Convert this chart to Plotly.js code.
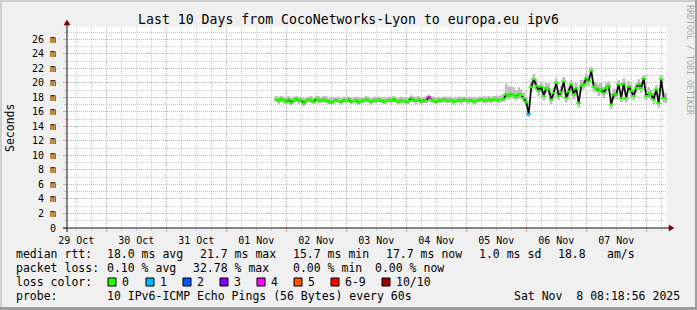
<!DOCTYPE html>
<html>
<head>
<meta charset="utf-8">
<script src="https://cdn.plot.ly/plotly-3.0.1.min.js"></script>
<style>
  html, body { margin: 0; padding: 0; background: #f0f0f0; }
  #chart { width: 697px; height: 310px; }
</style>
</head>
<body>
<div id="chart"></div>
<script>
// ---------------- DATA ----------------
const chartTitle = 'Last 10 Days from CocoNetworks-Lyon to europa.eu ipv6';
const rangeStart = '2025-10-29 08:18:56';
const rangeEnd = '2025-11-08 08:18:56';
const firstSample = Date.UTC(2025, 10, 1, 20, 0, 0); // Nov 1 20:00, hourly samples
const sampleStepHours = 1;

// median rtt per hourly sample (ms)
const medianMs = [
  17.7, 17.5, 17.8, 17.6, 17.4, 17.7, 17.3, 17.6, 17.8, 17.5,
  17.6, 17.2, 17.5, 17.7, 17.6, 17.4, 17.8, 17.6, 17.5, 17.7,
  17.6, 17.4, 17.3, 17.5, 17.6, 17.5, 17.4, 17.6, 17.5, 17.7,
  17.4, 17.5, 17.6, 17.3, 17.5, 17.6, 17.7, 17.5, 17.4, 17.6,
  17.5, 17.7, 17.6, 17.4, 17.5, 17.6, 17.5, 17.8, 17.5, 17.4,
  17.6, 17.5, 17.4, 17.5, 17.9, 17.6, 17.5, 17.7, 17.4, 17.6,
  17.5, 18.0, 17.7, 17.5, 17.4, 17.6, 17.5, 17.7, 17.6, 17.5,
  17.6, 17.4, 17.5, 17.6, 17.5, 17.7, 17.6, 17.5, 17.6, 17.4,
  17.5, 17.6, 17.7, 17.6, 17.5, 17.7, 17.6, 17.8, 17.7, 17.6,
  17.7, 17.8,
  18.4, 18.2, 18.5, 18.3, 18.1, 18.4, 18.3, 17.9,
  17.4, 15.7, 19.4, 20.5, 19.6, 18.9, 19.5, 18.2, 19.3, 19.1,
  17.7, 18.6, 20.0, 18.2, 18.7, 20.2, 17.9, 18.8, 19.8, 18.4,
  19.3, 17.2, 19.6, 19.8, 20.6, 20.2, 21.7, 19.5, 19.3, 18.9,
  19.1, 18.6, 19.3, 19.6, 17.0, 18.4, 18.4, 19.8, 17.9, 19.9,
  17.9, 19.5, 18.9, 18.2, 19.3, 19.8, 19.3, 20.6, 18.2, 18.6,
  18.4, 17.7, 19.1, 17.2, 20.5, 17.9, 17.9
];

// smoke extent above / below the median (ms)
const smokeUpMs = [
  0.5, 0.6, 0.4, 0.5, 0.7, 0.5, 0.6, 0.5, 0.4, 0.6,
  0.5, 0.7, 0.5, 0.4, 0.6, 0.5, 0.4, 0.6, 0.5, 0.5,
  0.6, 0.5, 0.7, 0.5, 0.4, 0.6, 0.5, 0.5, 0.6, 0.4,
  0.6, 0.5, 0.5, 0.7, 0.5, 0.4, 0.5, 0.6, 0.5, 0.5,
  0.6, 0.4, 0.5, 0.6, 0.5, 0.5, 0.6, 0.4, 0.5, 0.6,
  0.5, 0.5, 0.6, 0.5, 0.4, 0.5, 0.6, 0.5, 0.6, 0.5,
  0.5, 0.4, 0.5, 0.6, 0.6, 0.5, 0.5, 0.4, 0.5, 0.6,
  0.5, 0.6, 0.5, 0.5, 0.6, 0.4, 0.5, 0.6, 0.5, 0.6,
  0.5, 0.5, 0.4, 0.6, 0.6, 0.5, 0.5, 0.4, 0.5, 0.6,
  0.6, 0.7,
  1.5, 1.3, 1.0, 1.1, 0.9, 1.0, 0.8, 0.8,
  0.7, 0.5, 0.8, 0.7, 0.9, 0.8, 0.6, 0.9, 0.7, 0.8,
  0.9, 0.7, 0.6, 0.8, 0.9, 0.6, 0.8, 0.7, 0.6, 0.9,
  0.7, 1.0, 0.8, 0.6, 0.7, 0.8, 0.5, 0.7, 0.8, 1.0,
  0.9, 0.8, 0.7, 0.6, 0.9, 0.8, 0.7, 0.6, 0.9, 0.7,
  0.8, 0.7, 0.9, 0.8, 0.6, 0.7, 0.8, 0.5, 0.9, 0.8,
  0.7, 0.9, 0.6, 0.9, 0.6, 0.8, 0.7
];
const smokeDownMs = [
  0.3, 0.4, 0.3, 0.4, 0.3, 0.3, 0.4, 0.3, 0.3, 0.4,
  0.3, 0.4, 0.3, 0.3, 0.4, 0.3, 0.3, 0.4, 0.3, 0.3,
  0.4, 0.3, 0.3, 0.4, 0.3, 0.3, 0.4, 0.3, 0.3, 0.4,
  0.3, 0.3, 0.4, 0.3, 0.3, 0.4, 0.3, 0.3, 0.4, 0.3,
  0.3, 0.4, 0.3, 0.3, 0.4, 0.3, 0.3, 0.4, 0.3, 0.3,
  0.4, 0.3, 0.3, 0.4, 0.3, 0.3, 0.4, 0.3, 0.3, 0.4,
  0.3, 0.3, 0.4, 0.3, 0.3, 0.4, 0.3, 0.3, 0.4, 0.3,
  0.3, 0.4, 0.3, 0.3, 0.4, 0.3, 0.3, 0.4, 0.3, 0.3,
  0.4, 0.3, 0.3, 0.4, 0.3, 0.3, 0.4, 0.3, 0.3, 0.4,
  0.3, 0.4,
  0.5, 0.5, 0.6, 0.5, 0.5, 0.6, 0.5, 0.6,
  0.6, 0.4, 0.7, 0.8, 0.6, 0.7, 0.8, 0.6, 0.7, 0.8,
  0.6, 0.7, 0.9, 0.6, 0.7, 0.8, 0.6, 0.7, 0.9, 0.6,
  0.7, 0.6, 0.8, 0.7, 0.9, 0.7, 0.8, 0.7, 0.6, 0.7,
  0.6, 0.7, 0.8, 0.7, 0.6, 0.7, 0.6, 0.8, 0.6, 0.8,
  0.6, 0.7, 0.8, 0.6, 0.7, 0.8, 0.7, 0.9, 0.6, 0.7,
  0.7, 0.6, 0.8, 0.6, 0.9, 0.6, 0.7
];

// samples with packet loss: index into the series, lost pings (of 10)
const lossSampleIndex = [61, 101];
const lossSampleCount = [4, 1];

// loss colour legend
const lossLabels = ['0', '1', '2', '3', '4', '5', '6-9', '10/10'];
const lossColors = ['#26ff00', '#00b8ff', '#0059ff', '#7e00ff', '#ff00ff', '#ff5500', '#ff0000', '#a10000'];

// y ticks (ms) and their labels
const yTickVals = [0, 2, 4, 6, 8, 10, 12, 14, 16, 18, 20, 22, 24, 26];
const yTickText = ['0', '2 m', '4 m', '6 m', '8 m', '10 m', '12 m', '14 m', '16 m', '18 m', '20 m', '22 m', '24 m', '26 m'];
const yMinorVals = [1, 3, 5, 7, 9, 11, 13, 15, 17, 19, 21, 23, 25, 27];

// legend texts
const legendRows = [
  ['median rtt:', '18.0 ms avg', '21.7 ms max', '15.7 ms min', '17.7 ms now', '1.0 ms sd', '18.8', 'am/s'],
  ['packet loss:', '0.10 % avg', '32.78 % max', '0.00 % min', '0.00 % now'],
  ['loss color:'],
  ['probe:', '10 IPv6-ICMP Echo Pings (56 Bytes) every 60s']
];
const stampText = 'Sat Nov\u00a0\u00a08 08:18:56 2025';
const yUnitTitle = 'Seconds';
const watermark = 'RRDTOOL / TOBI OETIKER';

// ---------------- BUILD ----------------
const W = 697, H = 310;
const L = 67, R = 667, T = 27, B = 228;
const px = x => (x - L) / (R - L);
const py = y => (B - y) / (B - T);
const mono = 'DejaVu Sans Mono, monospace';

function pad(n) { return (n < 10 ? '0' : '') + n; }
const times = medianMs.map((_, i) => {
  const d = new Date(firstSample + i * sampleStepHours * 3600000);
  return d.getUTCFullYear() + '-' + pad(d.getUTCMonth() + 1) + '-' + pad(d.getUTCDate()) + ' ' +
         pad(d.getUTCHours()) + ':' + pad(d.getUTCMinutes());
});
function lossColorIndex(n) { return n <= 5 ? n : (n < 10 ? 6 : 7); }
const pointColors = medianMs.map((_, i) => {
  const k = lossSampleIndex.indexOf(i);
  return lossColors[k < 0 ? 0 : lossColorIndex(lossSampleCount[k])];
});

const traces = [
  { // smoke
    type: 'scatter', mode: 'markers', x: times, y: medianMs,
    marker: { size: 1, opacity: 0 },
    error_y: { type: 'data', symmetric: false, array: smokeUpMs, arrayminus: smokeDownMs,
               color: '#bdbdbd', thickness: 2.6, width: 0 },
    hoverinfo: 'skip'
  },
  { // median connecting line
    type: 'scatter', mode: 'lines', x: times, y: medianMs,
    line: { color: '#111111', width: 1.8 }, hoverinfo: 'skip'
  },
  { // median ticks coloured by loss
    type: 'scatter', mode: 'markers', x: times, y: medianMs,
    marker: { symbol: 'line-ew', size: 3.5, line: { width: 2, color: pointColors } },
    hoverinfo: 'skip'
  }
];

const shapes = [];
const annotations = [];
// frame (3D bevel)
const fx0 = px(0), fx1 = px(W), fy0 = py(H), fy1 = py(0);
shapes.push({ type: 'rect', xref: 'paper', yref: 'paper', x0: fx0, x1: fx1, y0: py(2), y1: fy1, fillcolor: '#cfcfcf', line: { width: 0 }, layer: 'below' });
shapes.push({ type: 'rect', xref: 'paper', yref: 'paper', x0: fx0, x1: px(2), y0: fy0, y1: fy1, fillcolor: '#cfcfcf', line: { width: 0 }, layer: 'below' });
shapes.push({ type: 'rect', xref: 'paper', yref: 'paper', x0: fx0, x1: fx1, y0: fy0, y1: py(H - 3), fillcolor: '#9e9e9e', line: { width: 0 }, layer: 'below' });
shapes.push({ type: 'rect', xref: 'paper', yref: 'paper', x0: px(W - 2), x1: fx1, y0: fy0, y1: fy1, fillcolor: '#9e9e9e', line: { width: 0 }, layer: 'below' });
// axes with arrows
shapes.push({ type: 'line', xref: 'paper', yref: 'paper', x0: px(63), x1: px(670), y0: py(228), y1: py(228), line: { color: '#111', width: 1 } });
shapes.push({ type: 'line', xref: 'paper', yref: 'paper', x0: px(67), x1: px(67), y0: py(232), y1: py(24), line: { color: '#111', width: 1 } });
shapes.push({ type: 'path', xref: 'paper', yref: 'paper', path: 'M ' + px(669) + ' ' + py(225) + ' L ' + px(674) + ' ' + py(228) + ' L ' + px(669) + ' ' + py(231) + ' Z', fillcolor: '#7f0000', line: { color: '#7f0000', width: 0.5 } });
shapes.push({ type: 'path', xref: 'paper', yref: 'paper', path: 'M ' + px(64) + ' ' + py(25) + ' L ' + px(67) + ' ' + py(20) + ' L ' + px(70) + ' ' + py(25) + ' Z', fillcolor: '#7f0000', line: { color: '#7f0000', width: 0.5 } });

// legend text
const rowY = [254, 268, 282, 296];
const rowX = [
  [16, 107, 200, 293, 386, 479, 558, 607],
  [16, 107, 193, 293, 375],
  [16],
  [16, 107]
];
function txt(text, x, y, anchor, extra) {
  annotations.push(Object.assign({
    text: text, xref: 'paper', yref: 'paper', x: px(x), y: py(y),
    xanchor: anchor || 'left', yanchor: 'middle', showarrow: false,
    borderpad: 0, borderwidth: 0,
    font: { family: mono, size: 11.5, color: '#000' }
  }, extra || {}));
}
legendRows.forEach((row, r) => row.forEach((t, c) => txt(t, rowX[r][c], rowY[r])));
txt(stampText, 680, 296, 'right');
// loss colour boxes
const boxX = [108, 146, 183, 220, 257, 294, 331, 382];
lossLabels.forEach((lab, i) => {
  shapes.push({ type: 'rect', xref: 'paper', yref: 'paper', x0: px(boxX[i]), x1: px(boxX[i] + 8),
    y0: py(286), y1: py(278), fillcolor: lossColors[i], line: { color: '#000', width: 1 } });
  txt(lab, boxX[i] + 14, 282);
});
// y unit title
txt(yUnitTitle, 10, 128, 'center', { textangle: -90 });
// watermark
txt(watermark, 690, 60, 'center', { textangle: 90, font: { family: mono, size: 8.3, color: '#a8a8a8' } });

const gridMajor = 'rgba(229,0,0,0.38)';
const gridMinor = 'rgba(140,140,140,0.45)';

const layout = {
  width: W, height: H,
  paper_bgcolor: '#f0f0f0', plot_bgcolor: '#ffffff',
  margin: { l: L, r: W - R, t: T, b: H - B, pad: 0 },
  showlegend: false,
  title: { text: chartTitle, xref: 'container', x: 0.5, xanchor: 'center',
           yref: 'container', y: 1 - 19 / H, yanchor: 'middle',
           font: { family: mono, size: 13.2, color: '#000' } },
  xaxis: {
    type: 'date', range: [rangeStart, rangeEnd],
    tickmode: 'linear', tick0: '2025-10-30', dtick: 86400000,
    ticklabelmode: 'period', tickformat: '%d %b',
    showgrid: true, gridcolor: gridMajor, griddash: '1px,1px', gridwidth: 1,
    ticks: 'outside', ticklen: 3, tickcolor: gridMajor,
    minor: { tick0: '2025-10-30', dtick: 21600000, showgrid: true, gridcolor: gridMinor,
             griddash: '1px,1px', ticks: 'outside', ticklen: 2, tickcolor: gridMinor },
    tickfont: { family: mono, size: 10, color: '#000' },
    showline: false, zeroline: false
  },
  yaxis: {
    range: [0, 27.7], tickmode: 'array', tickvals: yTickVals, ticktext: yTickText,
    showgrid: true, gridcolor: gridMajor, griddash: '1px,1px', gridwidth: 1,
    ticks: 'outside', ticklen: 3, tickcolor: gridMajor, ticklabelstandoff: 5,
    minor: { tickmode: 'array', tickvals: yMinorVals, showgrid: true, gridcolor: gridMinor,
             griddash: '1px,1px', ticks: 'outside', ticklen: 2, tickcolor: gridMinor },
    tickfont: { family: mono, size: 10, color: '#000' },
    showline: false, zeroline: false
  },
  shapes: shapes,
  annotations: annotations
};

Plotly.newPlot('chart', traces, layout, { displayModeBar: false, staticPlot: true });
</script>
</body>
</html>
